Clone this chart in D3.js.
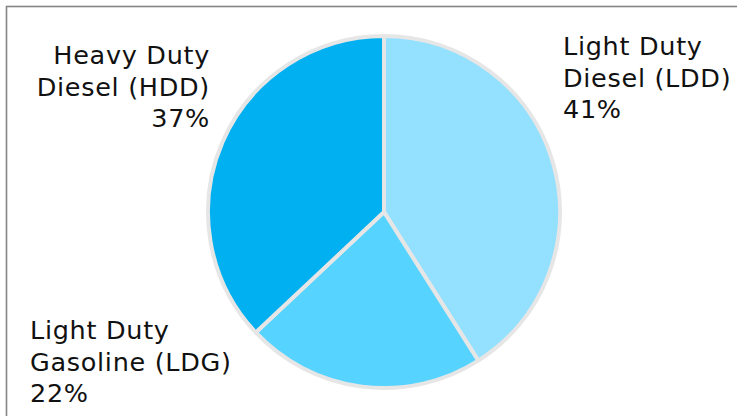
<!DOCTYPE html>
<html>
<head>
<meta charset="utf-8">
<script src="https://cdn.jsdelivr.net/npm/d3@7"></script>
<style>
  html, body { margin: 0; padding: 0; background: #fff; }
  svg { display: block; }
</style>
</head>
<body>
<div id="chart"></div>
<script>
// vehicle type shares, clockwise from 12 o'clock
const categories = ["Light Duty Diesel (LDD)", "Light Duty Gasoline (LDG)", "Heavy Duty Diesel (HDD)"];
const shares = [41, 22, 37];
const labelLines = [
  ["Light Duty", "Diesel (LDD)", "41%"],
  ["Light Duty", "Gasoline (LDG)", "22%"],
  ["Heavy Duty", "Diesel (HDD)", "37%"]
];
const sliceColors = ["#93e1ff", "#57d3ff", "#00b0f0"];

const WIDTH = 737;
const HEIGHT = 416;
const CX = 384;
const CY = 212;
const R = 176;

const svg = d3.select("#chart")
  .append("svg")
  .attr("width", WIDTH)
  .attr("height", HEIGHT);

// frame (only top/left visible, rest is cropped off)
svg.append("rect")
  .attr("x", 6.5).attr("y", 6.5)
  .attr("width", WIDTH + 10).attr("height", HEIGHT + 10)
  .attr("fill", "none")
  .attr("stroke", "#858585")
  .attr("stroke-width", 1.6);

const data = categories.map((c, i) => ({ name: c, value: shares[i], lines: labelLines[i], color: sliceColors[i] }));

const pie = d3.pie().sort(null).value(d => d.value);
const arc = d3.arc().innerRadius(0).outerRadius(R);

const g = svg.append("g").attr("transform", `translate(${CX},${CY})`);

g.selectAll("path.slice")
  .data(pie(data))
  .enter()
  .append("path")
  .attr("class", "slice")
  .attr("d", arc)
  .attr("fill", d => d.data.color)
  .attr("stroke", "#e6e6e6")
  .attr("stroke-width", 4)
  .attr("stroke-linejoin", "round");

// label placement: anchor x, first baseline, anchor side
const labelPos = [
  { x: 563, y: 55, anchor: "start" },
  { x: 30, y: 339, anchor: "start" },
  { x: 210, y: 64, anchor: "end" }
];
const LINE_H = 31.7;

const labels = svg.append("g").attr("class", "labels");
data.forEach((d, i) => {
  const p = labelPos[i];
  const t = labels.append("text")
    .attr("x", p.x)
    .attr("y", p.y)
    .attr("text-anchor", p.anchor)
    .attr("font-family", "Verdana, 'DejaVu Sans', sans-serif")
    .attr("font-size", 25.5)
    .attr("letter-spacing", 0.7)
    .attr("fill", "#111");
  d.lines.forEach((line, j) => {
    t.append("tspan")
      .attr("x", p.x)
      .attr("y", p.y + j * LINE_H)
      .text(line);
  });
});
</script>
</body>
</html>
